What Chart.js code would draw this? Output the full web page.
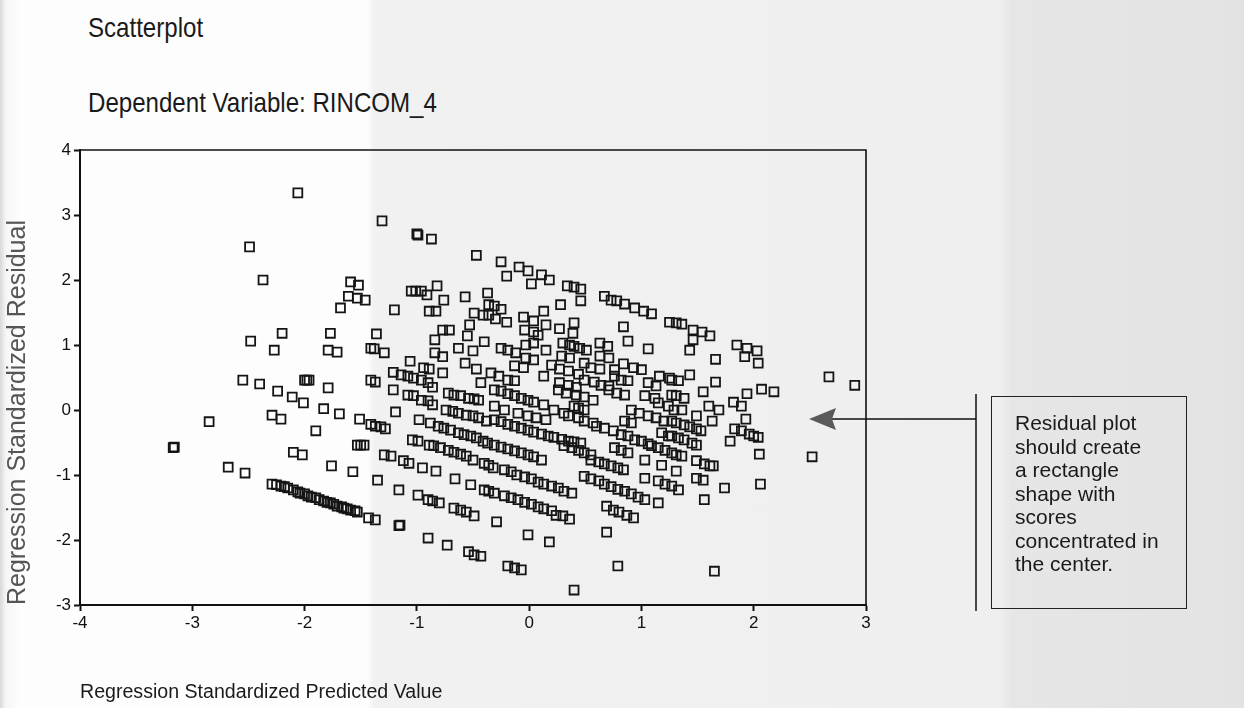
<!DOCTYPE html>
<html lang="en">
<head>
  <meta charset="UTF-8">
  <title>Scatterplot - Dependent Variable: RINCOM_4</title>
  <style>
    body {
      margin: 0;
      width: 1244px;
      height: 708px;
      overflow: hidden;
      font-family: "Liberation Sans", Arial, sans-serif;
      color: #1a1a1a;
      background: linear-gradient(to right, #d8d8d8 0, #f6f6f6 6px, #fdfdfd 20px, #fdfdfd 368px, #f1f1f1 374px, #efefef 1000px, #e6e6e6 1012px, #e3e3e3 100%);
    }
    .title {
      position: absolute;
      left: 88px;
      font-size: 28px;
      line-height: 32px;
      white-space: nowrap;
      transform: scaleX(0.86);
      transform-origin: left center;
    }
    #t1 { top: 12px; }
    #t2 { top: 87px; }
    .chart-box {
      position: absolute;
      left: 0;
      top: 0;
      width: 1244px;
      height: 708px;
    }
    .note {
      position: absolute;
      left: 991px;
      top: 396px;
      width: 171px;
      height: 197px;
      padding: 14px 0 0 23px;
      border: 1.5px solid #222;
      font-size: 21px;
      line-height: 23.5px;
    }
  </style>
</head>
<body>
  <div class="title" id="t1">Scatterplot</div>
  <div class="title" id="t2">Dependent Variable: RINCOM_4</div>
  <div class="chart-box">
    <canvas id="scatter"></canvas>
  </div>
  <div class="note">Residual plot<br>should create<br>a rectangle<br>shape with<br>scores<br>concentrated in<br>the center.</div>

  <script src="https://cdn.jsdelivr.net/npm/chart.js"></script>
  <script>
    // axis ticks
    const xTickValues = [-4, -3, -2, -1, 0, 1, 2, 3];
    const yTickValues = [-3, -2, -1, 0, 1, 2, 3, 4];

    // [standardized predicted value, standardized residual]
    const outlierPoints = [
      [-3.17, -0.58], [-3.16, -0.57], [-2.85, -0.18], [-2.68, -0.88], [-2.53, -0.97],
      [-2.49, 2.51], [-2.37, 2.0], [-2.48, 1.06], [-2.2, 1.18], [-2.27, 0.92],
      [-2.55, 0.46], [-2.4, 0.4], [-2.24, 0.29], [-2.11, 0.2], [-2.29, -0.08],
      [-2.21, -0.14], [-2.1, -0.65], [-2.06, 3.34]
    ];

    const lowBandPoints = [
      [-2.29, -1.14], [-2.25, -1.15], [-2.21, -1.17], [-2.18, -1.18], [-2.15, -1.2],
      [-2.1, -1.23], [-2.06, -1.26], [-2.04, -1.28], [-2.0, -1.29], [-1.97, -1.32],
      [-1.94, -1.34], [-1.9, -1.35], [-1.87, -1.38], [-1.83, -1.4], [-1.8, -1.42],
      [-1.77, -1.43], [-1.74, -1.45], [-1.71, -1.48], [-1.67, -1.49], [-1.65, -1.51],
      [-1.62, -1.52], [-1.59, -1.54], [-1.55, -1.55], [-1.53, -1.57]
    ];

    const leftPoints = [
      [-2.02, -0.69], [-2.01, 0.11], [-2.0, 0.46], [-1.98, 0.46], [-1.96, 0.46],
      [-1.9, -0.32], [-1.83, 0.02], [-1.79, 0.34], [-1.77, 1.18], [-1.79, 0.92],
      [-1.71, 0.89], [-1.76, -0.86], [-1.69, -0.06], [-1.68, 1.57], [-1.61, 1.75],
      [-1.53, 1.72], [-1.46, 1.69], [-1.59, 1.97], [-1.52, 1.92], [-1.57, -0.95],
      [-1.53, -0.54], [-1.5, -0.54], [-1.47, -0.54], [-1.51, -0.14], [-1.41, -0.22],
      [-1.37, -0.25], [-1.32, -0.26], [-1.28, -0.29], [-1.41, 0.46], [-1.37, 0.43],
      [-1.41, 0.95], [-1.38, 0.94], [-1.36, 1.17], [-1.29, 0.88], [-1.31, 2.91],
      [-1.35, -1.08], [-1.43, -1.66], [-1.37, -1.69], [-1.29, -0.69], [-1.23, -0.71],
      [-1.2, 1.54], [-1.21, 0.58], [-1.14, 0.54], [-1.08, 0.52], [-1.03, 0.49],
      [-0.96, 0.46], [-0.9, 0.42], [-0.86, 0.35], [-1.21, 0.31], [-1.19, -0.03],
      [-1.16, -1.23], [-1.16, -1.78], [-1.15, -1.77], [-1.12, -0.78], [-1.07, -0.82]
    ];

    const midLeftPoints = [
      [-1.05, 1.83], [-1.01, 1.83], [-0.96, 1.83], [-1.0, 2.71], [-0.99, 2.69],
      [-0.87, 2.63], [-0.82, 1.91], [-0.91, 1.77], [-0.76, 1.69], [-0.89, 1.52],
      [-0.83, 1.52], [-0.57, 1.74], [-0.47, 2.38], [-0.37, 1.8], [-0.49, 1.49],
      [-0.41, 1.46], [-0.36, 1.46], [-0.77, 1.23], [-0.71, 1.23], [-0.53, 1.31],
      [-0.84, 1.08], [-0.55, 1.14], [-0.4, 1.05], [-0.63, 0.95], [-0.5, 0.91],
      [-0.84, 0.88], [-0.77, 0.82], [-0.57, 0.72], [-1.06, 0.75], [-0.94, 0.65],
      [-0.89, 0.63], [-0.77, 0.57], [-0.47, 0.63],
      [-1.08, 0.23], [-1.03, 0.22], [-0.96, 0.15], [-0.9, 0.14], [-0.86, 0.08],
      [-0.72, 0.26], [-0.67, 0.23], [-0.61, 0.22], [-0.54, 0.18], [-0.49, 0.17], [-0.45, 0.15],
      [-0.74, 0.0], [-0.68, -0.02], [-0.63, -0.05], [-0.56, -0.08], [-0.5, -0.09],
      [-0.45, -0.12], [-0.38, -0.17], [-0.98, -0.15],
      [-0.88, -0.2], [-0.81, -0.25], [-0.76, -0.28], [-0.7, -0.31], [-0.63, -0.35],
      [-0.58, -0.38], [-0.52, -0.4], [-0.47, -0.43], [-0.41, -0.48],
      [-1.04, -0.46], [-0.99, -0.48],
      [-0.89, -0.54], [-0.85, -0.55], [-0.79, -0.58], [-0.72, -0.62], [-0.67, -0.65],
      [-0.61, -0.68], [-0.56, -0.71], [-0.5, -0.77], [-0.4, -0.82], [-0.36, -0.85], [-0.32, -0.89],
      [-0.95, -0.89], [-0.83, -0.94], [-0.66, -1.06], [-0.52, -1.15], [-0.4, -1.23],
      [-0.36, -1.25], [-0.31, -1.28], [-0.99, -1.31], [-0.9, -1.38], [-0.86, -1.4], [-0.8, -1.43],
      [-0.67, -1.51], [-0.61, -1.54], [-0.56, -1.57], [-0.49, -1.63],
      [-0.9, -1.97], [-0.73, -2.08], [-0.54, -2.18], [-0.49, -2.23], [-0.43, -2.25]
    ];

    const centreUpperPoints = [
      [-0.25, 2.28], [-0.2, 2.06], [-0.09, 2.2], [-0.01, 2.14], [0.11, 2.08],
      [0.18, 2.0], [0.02, 1.94], [0.34, 1.91], [0.4, 1.89], [0.46, 1.86], [0.46, 1.68],
      [-0.36, 1.62], [-0.31, 1.6], [-0.25, 1.55], [-0.3, 1.4], [-0.2, 1.35],
      [-0.05, 1.43], [0.04, 1.37], [0.13, 1.52], [0.28, 1.62], [0.27, 1.25],
      [0.39, 1.18], [0.4, 1.34], [-0.04, 1.23], [0.04, 1.2], [0.08, 1.15], [0.15, 1.31],
      [-0.25, 0.95], [-0.19, 0.92], [-0.12, 0.88], [-0.03, 1.0], [0.04, 1.03],
      [-0.03, 0.8], [0.04, 0.77], [0.15, 0.92],
      [0.3, 1.03], [0.36, 1.0], [0.4, 0.98], [0.45, 0.95], [0.51, 0.92], [0.63, 1.03],
      [0.7, 0.98], [0.63, 0.83], [0.71, 0.8], [0.29, 0.83], [0.36, 0.8],
      [0.2, 0.69], [0.27, 0.63], [0.35, 0.6], [0.44, 0.55], [0.55, 0.65], [0.63, 0.63],
      [0.49, 0.72], [0.84, 0.71], [0.93, 0.65], [1.0, 0.62], [0.76, 0.62],
      [-0.13, 0.68], [-0.05, 0.65], [-0.34, 0.57], [-0.27, 0.52], [-0.19, 0.46],
      [-0.13, 0.45], [0.13, 0.52],
      [0.27, 0.42], [0.35, 0.38], [0.42, 0.35], [0.49, 0.46], [0.58, 0.43], [0.64, 0.38],
      [0.71, 0.37], [0.76, 0.52], [0.82, 0.46], [0.88, 0.45], [1.16, 0.52], [1.06, 0.42],
      [1.13, 0.37], [1.25, 0.49]
    ];

    const centrePoints = [
      [-0.31, 0.31], [-0.25, 0.29], [-0.19, 0.25], [-0.13, 0.22], [-0.07, 0.18],
      [-0.01, 0.15], [0.04, 0.12], [0.13, 0.08],
      [0.26, 0.31], [0.33, 0.26], [0.42, 0.23], [0.49, 0.2], [0.57, 0.15], [0.71, 0.31],
      [0.78, 0.26], [0.85, 0.23], [1.03, 0.22], [1.12, 0.18], [1.15, 0.11], [1.24, 0.06], [1.29, 0.0],
      [-0.43, 0.42], [-0.31, 0.06], [-0.22, 0.0], [-0.1, -0.05], [-0.01, -0.09],
      [0.06, -0.12], [0.15, -0.15], [0.22, 0.0], [0.31, -0.05],
      [0.35, -0.09], [0.44, -0.12], [0.49, -0.17], [0.57, -0.2],
      [0.91, 0.0], [0.98, -0.05], [1.06, -0.09], [1.13, -0.12], [1.2, -0.17],
      [0.4, 0.06], [0.44, 0.03], [0.49, 0.0],
      [-0.31, -0.15], [-0.25, -0.18], [-0.19, -0.22], [-0.13, -0.25], [-0.07, -0.28],
      [-0.01, -0.31], [0.04, -0.34], [0.11, -0.37], [0.17, -0.4], [0.22, -0.42],
      [0.29, -0.45], [0.35, -0.48], [0.4, -0.49], [0.46, -0.51],
      [-0.37, -0.51], [-0.31, -0.54], [-0.25, -0.57], [-0.19, -0.6], [-0.13, -0.63],
      [-0.07, -0.66], [-0.01, -0.69], [0.04, -0.72], [0.11, -0.77],
      [0.31, -0.55], [0.38, -0.58], [0.44, -0.62], [0.49, -0.66], [0.55, -0.69],
      [0.55, -0.77], [0.62, -0.8], [0.67, -0.83], [0.73, -0.86], [0.79, -0.89], [0.84, -0.92],
      [0.76, -0.58], [0.82, -0.62], [0.88, -0.66],
      [0.6, -0.25], [0.67, -0.28], [0.75, -0.32], [0.82, -0.38], [0.88, -0.4],
      [0.94, -0.46], [1.0, -0.48], [1.06, -0.52], [0.85, -0.17], [0.91, -0.2],
      [1.18, -0.35], [1.24, -0.4], [1.09, -0.55], [1.15, -0.58], [1.21, -0.62],
      [1.03, -0.77], [1.18, -0.85], [1.31, -0.94]
    ];

    const centreLowerPoints = [
      [-0.22, -0.92], [-0.16, -0.95], [-0.11, -1.0], [-0.04, -1.03], [0.02, -1.06],
      [0.08, -1.11], [0.13, -1.14], [0.2, -1.17], [0.26, -1.2], [0.31, -1.25], [0.38, -1.28],
      [0.49, -1.02], [0.55, -1.06], [0.62, -1.09], [0.67, -1.14], [0.73, -1.18],
      [0.79, -1.22], [0.85, -1.25], [0.91, -1.29], [0.97, -1.34], [1.03, -1.38],
      [1.03, -1.05], [1.15, -1.09], [1.21, -1.14], [1.27, -1.17], [1.33, -1.23],
      [-0.22, -1.32], [-0.16, -1.35], [-0.1, -1.38], [-0.04, -1.42], [0.02, -1.45],
      [0.08, -1.49], [0.13, -1.52], [0.2, -1.55], [0.24, -1.62], [0.3, -1.63], [0.36, -1.68],
      [0.69, -1.48], [0.75, -1.54], [0.8, -1.57], [0.87, -1.62], [0.93, -1.66],
      [1.15, -1.43], [-0.29, -1.72], [-0.01, -1.92], [0.18, -2.03], [0.69, -1.88],
      [-0.19, -2.4], [-0.13, -2.43], [-0.07, -2.46], [0.4, -2.77], [0.79, -2.4], [1.65, -2.48]
    ];

    const rightPoints = [
      [0.67, 1.75], [0.73, 1.69], [0.78, 1.68], [0.85, 1.63], [0.94, 1.57], [1.02, 1.52],
      [1.09, 1.48], [0.84, 1.28], [0.88, 1.06], [1.06, 0.94],
      [1.25, 1.35], [1.31, 1.34], [1.36, 1.32], [1.46, 1.23], [1.54, 1.2], [1.61, 1.14],
      [1.46, 1.08], [1.43, 0.92], [1.85, 1.0], [1.94, 0.95], [2.03, 0.91], [1.92, 0.82],
      [2.04, 0.72], [1.66, 0.78], [2.67, 0.51], [2.9, 0.38],
      [1.43, 0.54], [1.33, 0.45], [1.27, 0.46], [1.66, 0.43], [1.55, 0.28], [1.94, 0.25],
      [2.07, 0.32], [2.18, 0.28], [1.6, 0.06], [1.69, 0.0], [1.82, 0.12], [1.89, 0.06],
      [1.49, -0.09], [1.93, -0.14], [1.27, 0.23], [1.31, 0.22], [1.38, 0.18], [1.36, 0.0],
      [1.63, -0.17], [1.83, -0.29], [1.89, -0.32], [1.96, -0.37], [2.0, -0.4], [2.04, -0.42],
      [1.79, -0.48], [2.05, -0.68], [2.52, -0.72], [2.06, -1.14], [1.74, -1.2], [1.56, -1.38],
      [1.27, -0.17], [1.31, -0.2], [1.38, -0.23], [1.43, -0.26], [1.49, -0.29], [1.53, -0.32],
      [1.27, -0.4], [1.33, -0.43], [1.38, -0.46], [1.45, -0.51], [1.49, -0.54],
      [1.27, -0.66], [1.31, -0.69], [1.36, -0.71], [1.49, -0.78], [1.56, -0.83],
      [1.61, -0.86], [1.64, -0.86], [1.49, -1.05], [1.55, -1.08]
    ];

    const allPoints = [].concat(outlierPoints, lowBandPoints, leftPoints, midLeftPoints,
      centreUpperPoints, centrePoints, centreLowerPoints, rightPoints);

    // frame around the plot + the callout arrow and bar
    const framePlugin = {
      id: 'frame',
      afterDraw(chart) {
        const {ctx, chartArea: a} = chart;
        ctx.save();
        ctx.strokeStyle = '#111';
        ctx.lineWidth = 1.6;
        ctx.beginPath();
        ctx.moveTo(a.left, a.top);
        ctx.lineTo(a.right, a.top);
        ctx.lineTo(a.right, a.bottom);
        ctx.stroke();

        // callout bar and arrow
        ctx.lineWidth = 1.5;
        ctx.beginPath();
        ctx.moveTo(976, 394);
        ctx.lineTo(976, 611);
        ctx.moveTo(976, 419);
        ctx.lineTo(832, 419);
        ctx.stroke();
        ctx.fillStyle = '#5a5a5a';
        ctx.beginPath();
        ctx.moveTo(809, 419);
        ctx.lineTo(836, 408);
        ctx.lineTo(832, 419);
        ctx.lineTo(836, 430);
        ctx.closePath();
        ctx.fill();
        ctx.restore();
      }
    };

    const axisFont = {family: '"Liberation Sans", Arial, sans-serif', size: 17};

    new Chart(document.getElementById('scatter'), {
      type: 'scatter',
      data: {
        datasets: [{
          label: 'Standardized residual',
          data: allPoints.map(p => ({x: p[0], y: p[1]})),
          pointStyle: 'rect',
          pointRadius: 6.3,
          pointHoverRadius: 6.3,
          borderColor: '#151515',
          borderWidth: 1.8,
          backgroundColor: 'rgba(0,0,0,0)'
        }]
      },
      options: {
        responsive: true,
        maintainAspectRatio: false,
        animation: false,
        layout: {padding: {top: 150, right: 378, left: 0, bottom: 0}},
        plugins: {
          legend: {display: false},
          tooltip: {enabled: false}
        },
        scales: {
          x: {
            type: 'linear',
            min: -4,
            max: 3,
            afterBuildTicks: s => { s.ticks = xTickValues.map(v => ({value: v})); },
            afterFit: s => { s.height = 103; },
            grid: {drawOnChartArea: false, drawTicks: true, tickLength: 6, tickColor: '#111', tickWidth: 2},
            border: {color: '#111', width: 2},
            ticks: {color: '#111', font: axisFont, padding: 2, maxRotation: 0},
            title: {
              display: true,
              text: 'Regression Standardized Predicted Value',
              align: 'start',
              color: '#1a1a1a',
              font: {family: '"Liberation Sans", Arial, sans-serif', size: 19.6},
              padding: {top: 0, bottom: 4}
            }
          },
          y: {
            type: 'linear',
            min: -3,
            max: 4,
            afterBuildTicks: s => { s.ticks = yTickValues.map(v => ({value: v})); },
            afterFit: s => { s.width = 80; },
            grid: {drawOnChartArea: false, drawTicks: true, tickLength: 6, tickColor: '#111', tickWidth: 2},
            border: {color: '#111', width: 2},
            ticks: {color: '#111', font: axisFont, padding: 3},
            title: {
              display: true,
              text: 'Regression Standardized Residual',
              align: 'start',
              color: '#555',
              font: {family: '"Liberation Sans", Arial, sans-serif', size: 25},
              padding: {top: 3, bottom: 0}
            }
          }
        }
      },
      plugins: [framePlugin]
    });
  </script>
</body>
</html>
